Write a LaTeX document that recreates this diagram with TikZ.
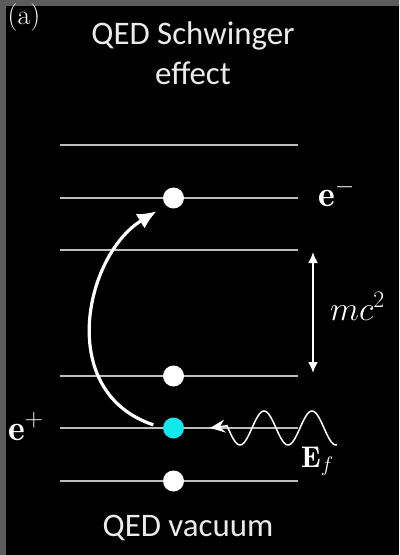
\documentclass[tikz,border=0pt]{standalone}
\usepackage{fix-cm}
\usepackage{amsmath}
\usepackage{fontspec}
\setsansfont{Carlito}
\usetikzlibrary{arrows.meta}
\definecolor{posdot}{RGB}{18,232,236}

\begin{document}
\begin{tikzpicture}[
  x=1bp, y=-1bp,
  level/.style={line width=2.8bp, draw=white!74!black},
  dot/.style={circle, fill=white, minimum size=21bp, inner sep=0pt},
  title/.style={font=\sffamily\fontsize{33}{40}\selectfont, text=white!92!black, align=center},
  lbl/.style={text=white, inner sep=0pt, anchor=base west, font=\fontsize{36}{40}\selectfont},
  pair/.style={white, line width=3.2bp, -{Latex[length=19bp,width=17bp]}},
  gap/.style={white, line width=2bp, {Latex[length=11bp,width=10bp]}-{Latex[length=11bp,width=10bp]}},
  wave/.style={white, line width=1.5bp, -{Stealth[length=15bp,width=13bp,inset=5bp]}}
]
\fill[black!64] (0,0) rectangle (399,555);
\fill[black] (6,6) rectangle (399,555);
\useasboundingbox (0,0) rectangle (399,555);

\node[text=white, font=\rmfamily\fontsize{28}{32}\selectfont] (tag) at (24,18) {(a)};
\node[title] (top) at (193,53) {QED Schwinger\\effect};
\node[title] (vac) at (188,528) {QED vacuum};

\foreach \y in {145,198,250,376,428,481}
  \draw[level] (60,\y) -- (298,\y);

\node[dot] (ep) at (173.5,198) {};
\node[dot] (sea1) at (173.5,376) {};
\node[dot, fill=posdot] (pos) at (173.5,428) {};
\node[dot] (sea2) at (173.5,481) {};

\node[lbl] (elec) at (318,207) {$\mathbf{e}^-$};
\node[lbl] (posi) at (8,440) {$\mathbf{e}^+$};
\node[lbl, font=\fontsize{34}{40}\selectfont] (mass) at (330,320) {$mc^2$};
\node[lbl, font=\fontsize{30}{34}\selectfont] (field) at (301,467) {$\mathbf{E}_f$};

\coordinate (gaptop) at (313,250);
\coordinate (gapbot) at (313,376);
\draw[gap, shorten <=2bp, shorten >=3bp] (gaptop) -- (gapbot);

\draw[pair, shorten <=10bp, shorten >=11bp] (pos.west) .. controls (55,392) and (85,255) .. (ep.south west);

\coordinate (wtip) at (210,428);
\draw[wave] plot[domain=337:227, samples=80] (\x, {428+17*sin((\x-228)*7.5)}) -- (wtip);
\end{tikzpicture}
\end{document}
